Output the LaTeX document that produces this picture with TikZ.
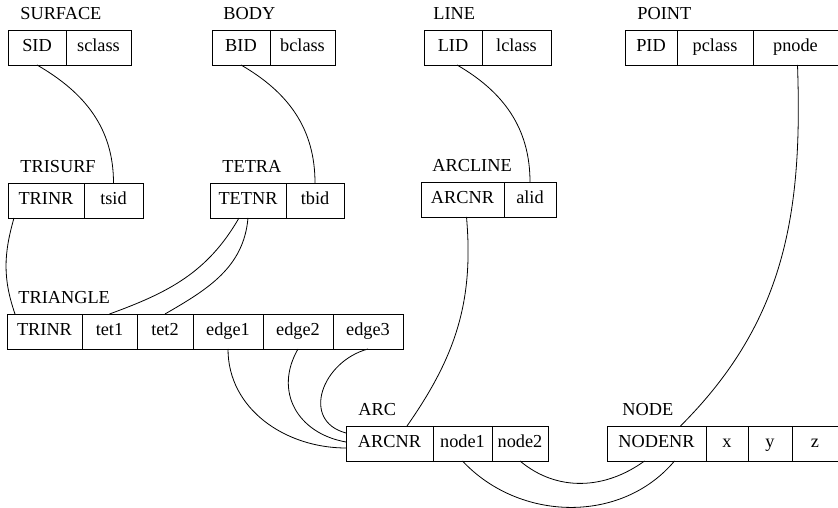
\documentclass[tikz,border=0pt]{standalone}
\usepackage{fontspec}
\setmainfont{Liberation Serif}
\usetikzlibrary{positioning}

\begin{document}
\begin{tikzpicture}[x=1pt, y=1pt, line width=0.8pt,
    every node/.style={font=\fontsize{18.3}{21}\selectfont},
    cell/.style={draw, outer sep=0pt, inner sep=0pt, minimum height=35pt, text height=13pt, text depth=4pt},
    wd/.style={minimum width=#1},
    tlabel/.style={anchor=base west, inner sep=0pt}]
          \useasboundingbox (0,0) rectangle (838,508);

          \node[cell, wd=58pt, anchor=west] (sid) at (8,460.5) {SID};
          \node[cell, wd=65pt, right=0pt of sid] (sclass) {sclass};
          \node[tlabel] (lsurface) at ([shift={(12,10.5)}]sid.north west) {SURFACE};

          \node[cell, wd=58pt, anchor=west] (bid) at (212,460.5) {BID};
          \node[cell, wd=65pt, right=0pt of bid] (bclass) {bclass};
          \node[tlabel] (lbody) at ([shift={(11,10.5)}]bid.north west) {BODY};

          \node[cell, wd=58pt, anchor=west] (lid) at (424,460.5) {LID};
          \node[cell, wd=69pt, right=0pt of lid] (lclass) {lclass};
          \node[tlabel] (lline) at ([shift={(9,10.5)}]lid.north west) {LINE};

          \node[cell, wd=52pt, anchor=west] (pid) at (625,460.5) {PID};
          \node[cell, wd=76pt, right=0pt of pid] (pclass) {pclass};
          \node[cell, wd=85pt, right=0pt of pclass] (pnode) {pnode};
          \node[tlabel] (lpoint) at ([shift={(12,10.5)}]pid.north west) {POINT};

          \node[cell, wd=76pt, anchor=west] (tstrinr) at (8,307.5) {TRINR};
          \node[cell, wd=59pt, right=0pt of tstrinr] (tsid) {tsid};
          \node[tlabel] (ltrisurf) at ([shift={(12,10.5)}]tstrinr.north west) {TRISURF};

          \node[cell, wd=76pt, anchor=west] (tetnr) at (210,307.5) {TETNR};
          \node[cell, wd=58pt, right=0pt of tetnr] (tbid) {tbid};
          \node[tlabel] (ltetra) at ([shift={(12,10.5)}]tetnr.north west) {TETRA};

          \node[cell, wd=83pt, anchor=west] (alnr) at (421,308.5) {ARCNR};
          \node[cell, wd=52pt, right=0pt of alnr] (alid) {alid};
          \node[tlabel] (larcline) at ([shift={(11,10.5)}]alnr.north west) {ARCLINE};

          \node[cell, wd=75pt, anchor=west] (trinr) at (7,176.5) {TRINR};
          \node[cell, wd=55pt, right=0pt of trinr] (tet1) {tet1};
          \node[cell, wd=56pt, right=0pt of tet1] (tet2) {tet2};
          \node[cell, wd=70pt, right=0pt of tet2] (edge1) {edge1};
          \node[cell, wd=70pt, right=0pt of edge1] (edge2) {edge2};
          \node[cell, wd=70pt, right=0pt of edge2] (edge3) {edge3};
          \node[tlabel] (ltriangle) at ([shift={(11,10.5)}]trinr.north west) {TRIANGLE};

          \node[cell, wd=87pt, anchor=west] (arcnr) at (346,64.5) {ARCNR};
          \node[cell, wd=59pt, right=0pt of arcnr] (node1) {node1};
          \node[cell, wd=56pt, right=0pt of node1] (node2) {node2};
          \node[tlabel] (larc) at ([shift={(12,10.5)}]arcnr.north west) {ARC};

          \node[cell, wd=99pt, anchor=west] (nodenr) at (607,64.5) {NODENR};
          \node[cell, wd=42pt, right=0pt of nodenr] (nx) {x};
          \node[cell, wd=44pt, right=0pt of nx] (ny) {y};
          \node[cell, wd=46pt, right=0pt of ny] (nz) {z};
          \node[tlabel] (lnode) at ([shift={(15,10.5)}]nodenr.north west) {NODE};

          \draw (sid.south) to[out=-30, in=90] (tsid.north);
          \draw (bid.south) to[out=-30, in=90] (tbid.north);
          \draw ([xshift=4pt]lid.south) to[out=-30, in=90] (alid.north);
          \draw ([xshift=2pt]pnode.south) to[out=-88, in=45] ([xshift=24pt]nodenr.north);

          \draw ([xshift=6pt]tstrinr.south west) to[out=-106, in=109] ([xshift=8pt]trinr.north west);
          \draw ([xshift=-9pt]tetnr.south) to[out=-120, in=20] (tet1.north);
          \draw (tetnr.south) to[out=-95, in=30] (tet2.north);

          \draw (edge1.south) to[out=-90, in=180] ([yshift=-4.5pt]arcnr.west);
          \draw (edge2.south) to[out=-120, in=170, looseness=1.2] ([yshift=1.5pt]arcnr.west);
          \draw (edge3.south) to[out=195, in=165, looseness=1.4] ([yshift=10.5pt]arcnr.west);
          \draw ([xshift=4pt]alnr.south) to[out=-85, in=55] ([xshift=17.5pt]arcnr.north);

          \draw (node1.south) to[out=-47, in=-130] ([xshift=18pt]nodenr.south);
          \draw (node2.south) to[out=-40, in=-144] ([xshift=-12pt]nodenr.south);
        \end{tikzpicture}
\end{document}
